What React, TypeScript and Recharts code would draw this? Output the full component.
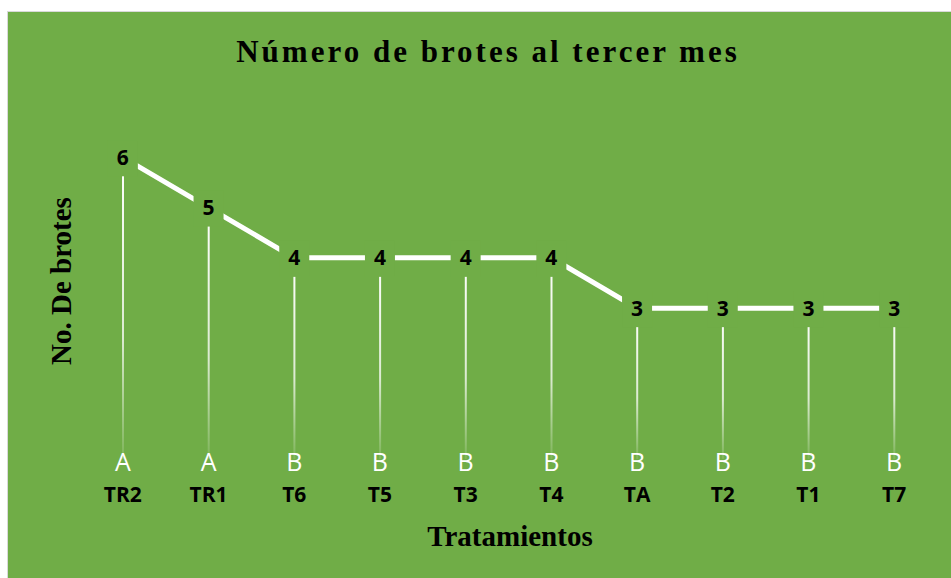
import React from 'react';
import { ComposedChart, Bar, Line, XAxis, YAxis, LabelList } from 'recharts';

const categories = ['TR2', 'TR1', 'T6', 'T5', 'T3', 'T4', 'TA', 'T2', 'T1', 'T7'];
const brotes = [6, 5, 4, 4, 4, 4, 3, 3, 3, 3];
const letters = ['A', 'A', 'B', 'B', 'B', 'B', 'B', 'B', 'B', 'B'];

const title = 'Número de brotes al tercer mes';
const yTitle = 'No. De brotes';
const xTitle = 'Tratamientos';

const data = categories.map((c, i) => ({ name: c, value: brotes[i], letter: letters[i] }));

const GREEN = '#70AD47';
const W = 943;
const H = 566;

const DropLine = (props: any) => {
  const { x, y, width, height } = props;
  if (height == null || height <= 0) return null;
  const cx = x + width / 2;
  return <rect x={cx - 1} y={y} width={2} height={height} fill="url(#dropGrad)" />;
};

const PointLabel = (props: any) => {
  const { x, y, value } = props;
  return (
    <g>
      <rect x={x - 15} y={y - 17} width={30} height={36} fill={GREEN} />
      <text x={x} y={y + 7.5} textAnchor="middle" fontFamily="'Open Sans', sans-serif" fontWeight="bold" fontSize={21} fill="#000">
        {value}
      </text>
    </g>
  );
};

const CatTick = (props: any) => {
  const { x, y, payload, index } = props;
  const letter = letters[index] ?? '';
  return (
    <g>
      <text x={x} y={y + 11.5} textAnchor="middle" fontFamily="'Open Sans', sans-serif" fontSize={25} fill="#fff">
        {letter}
      </text>
      <text x={x} y={y + 42.5} textAnchor="middle" fontFamily="'Open Sans', sans-serif" fontWeight="bold" fontSize={21} fill="#000">
        {payload.value}
      </text>
    </g>
  );
};

export default function App() {
  return (
    <div style={{ position: 'absolute', left: 7, top: 11, width: W, height: H, border: '1px solid #d9d9d9', background: GREEN }}>
      <ComposedChart width={W} height={H} data={data} margin={{ top: 95, right: 14, left: 72, bottom: 59 }}>
        <defs>
          <linearGradient id="dropGrad" x1="0" y1="0" x2="0" y2="1">
            <stop offset="0" stopColor="#fff" stopOpacity={1} />
            <stop offset="0.6" stopColor="#fff" stopOpacity={0.75} />
            <stop offset="1" stopColor="#fff" stopOpacity={0.1} />
          </linearGradient>
        </defs>
        <XAxis dataKey="name" axisLine={false} tickLine={false} tickSize={0} tickMargin={0} height={60} interval={0} tick={<CatTick />} />
        <YAxis hide domain={[0, 7]} />
        <Bar dataKey="value" barSize={2} shape={<DropLine />} isAnimationActive={false} />
        <Line dataKey="value" type="linear" stroke="#fff" strokeWidth={5} dot={false} isAnimationActive={false}>
          <LabelList dataKey="value" content={<PointLabel />} />
        </Line>
      </ComposedChart>
      <svg width={W} height={H} style={{ position: 'absolute', left: 0, top: 0, pointerEvents: 'none' }}>
        <text x={480} y={50} textAnchor="middle" fontFamily="'Liberation Serif', 'Times New Roman', serif" fontWeight="bold" fontSize={31} letterSpacing={3} fill="#000">
          {title}
        </text>
        <text x={63} y={269} textAnchor="middle" transform="rotate(-90, 63, 269)" fontFamily="'Liberation Serif', 'Times New Roman', serif" fontWeight="bold" fontSize={29} fill="#000">
          {yTitle}
        </text>
        <text x={502} y={534} textAnchor="middle" fontFamily="'Liberation Serif', 'Times New Roman', serif" fontWeight="bold" fontSize={29} fill="#000">
          {xTitle}
        </text>
      </svg>
    </div>
  );
}
